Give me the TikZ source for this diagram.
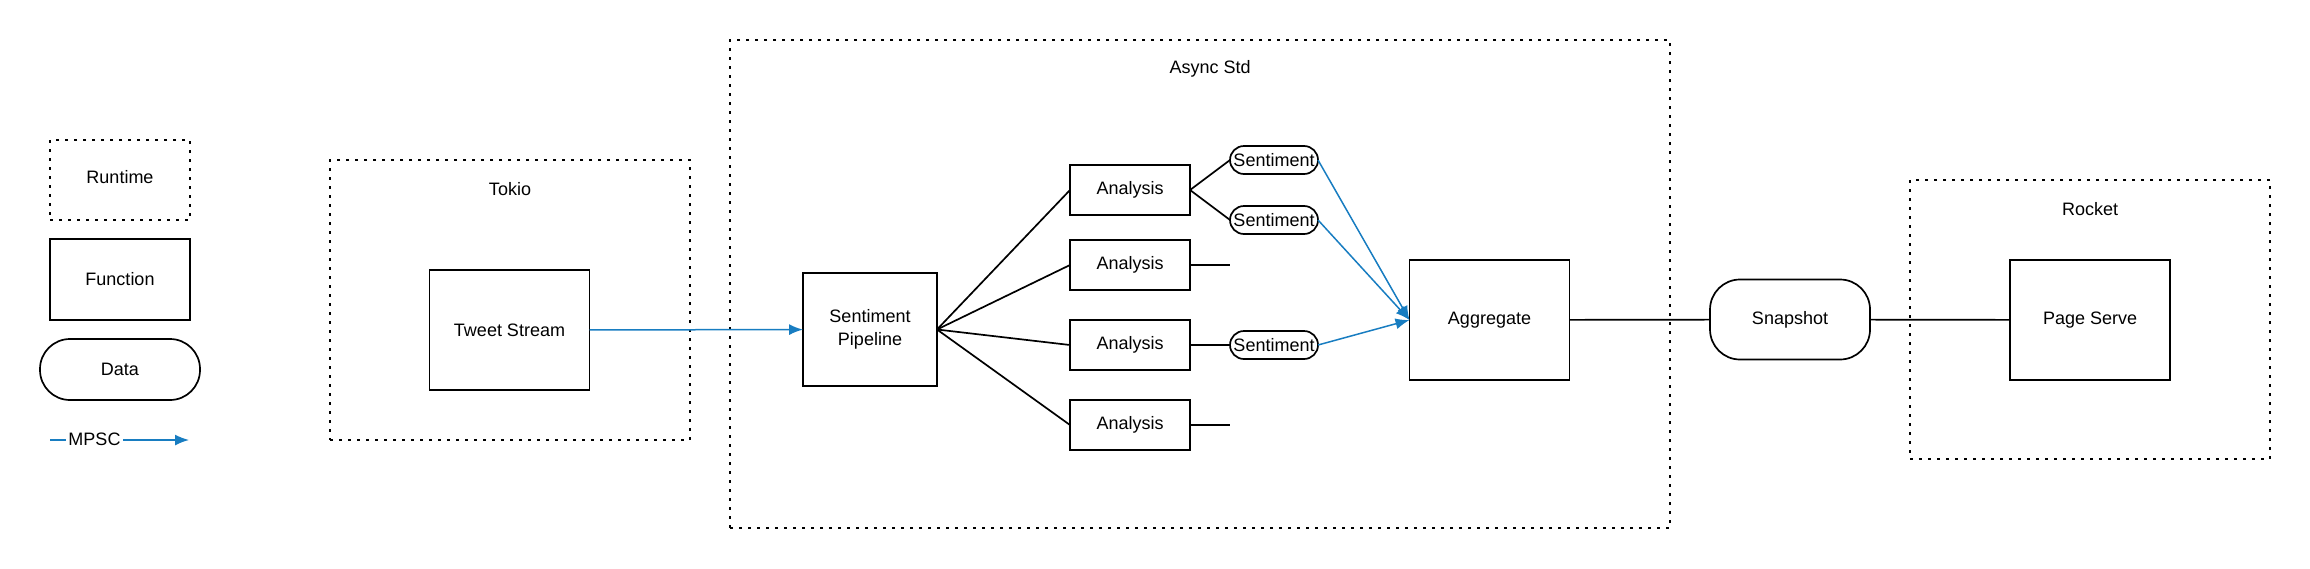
\documentclass[tikz,border=0pt]{standalone}
\usepackage{fontspec}
\setmainfont{Liberation Sans}
\usetikzlibrary{arrows.meta,positioning}
\definecolor{chanblue}{RGB}{24,125,193}
\tikzset{inner sep=0pt, outer sep=0pt}

\begin{document}
\begin{tikzpicture}[x=0.5pt,y=-0.5pt,font=\fontsize{9}{10.8}\selectfont,
        runtime/.style={draw,line width=0.85pt,dash pattern=on 1.5pt off 3pt,rectangle},
        func/.style={draw,line width=0.85pt,rectangle,minimum width=80pt,minimum height=60pt},
        data/.style={draw,line width=0.85pt,rectangle,rounded corners=15pt,minimum width=80pt,minimum height=40pt},
        pill/.style={draw,line width=0.85pt,rectangle,rounded corners=7pt,minimum width=44pt,minimum height=14pt},
        analysis/.style={func,minimum width=60pt,minimum height=25pt},
        link/.style={line width=0.85pt},
        mpsc/.style={draw=chanblue,line width=0.75pt,-{Latex[length=7pt,width=5.5pt]}}]
        \useasboundingbox (0,0) rectangle (2310,568);
        \node[runtime,minimum width=70pt,minimum height=40pt] (legrun) at (120,180) {};
        \node (legrunlbl) at (120,177) {Runtime};
        \node[func,minimum width=70pt,minimum height=40.5pt] (legfunc) at (120,279.5) {Function};
        \node[data,minimum height=30.5pt] (legdata) at (120,369.5) {Data};
        \coordinate (legfrom) at (50,440);
        \coordinate (legto) at (189,440);
        \draw[mpsc] (legfrom) -- (legto);
        \node[fill=white,inner xsep=1pt,inner ysep=1pt] (legmpsc) at (94.5,439) {MPSC};

        \node[runtime,minimum width=180pt,minimum height=140pt] (tokio) at (510,300) {};
        \node (tokiolbl) at (510,189) {Tokio};
        \node[func] (tweet) at (509.5,330) {Tweet Stream};

        \node[runtime,minimum width=470pt,minimum height=244pt] (async) at (1200,284) {};
        \node (asynclbl) at (1210,69) {Async Std};
        \node[func,minimum width=67pt,minimum height=56.5pt,align=center] (pipe) at (870,329.5) {Sentiment\\[1pt]Pipeline};
        \node[analysis] (an1) at (1130,190) {Analysis};
        \node[analysis] (an2) at (1130,265) {Analysis};
        \node[analysis] (an3) at (1130,345) {Analysis};
        \node[analysis] (an4) at (1130,425) {Analysis};
        \node[pill] (sent1) at (1274,160) {Sentiment};
        \node[pill] (sent2) at (1274,220) {Sentiment};
        \node[pill] (sent3) at (1274,345) {Sentiment};
        \coordinate (stub2) at (1230,265);
        \coordinate (stub4) at (1230,425);
        \node[func] (agg) at (1489.5,320) {Aggregate};

        \node[data] (snap) at (1790,319.5) {Snapshot};
        \node[runtime,minimum width=180pt,minimum height=139.5pt] (rocket) at (2090,319.5) {};
        \node (rocketlbl) at (2090,209) {Rocket};
        \node[func] (page) at (2090,320) {Page Serve};

        \draw[mpsc] (tweet) -- (pipe);
        \foreach \a in {an1,an2,an3,an4}
            \draw[link] (pipe.east) -- (\a.west);
        \draw[link] (an1.east) -- (sent1.west);
        \draw[link] (an1.east) -- (sent2.west);
        \draw[link] (an3) -- (sent3);
        \draw[link] (an2) -- (stub2);
        \draw[link] (an4) -- (stub4);
        \foreach \s in {sent1,sent2,sent3}
            \draw[mpsc] (\s.east) -- (agg.west);
        \draw[link] (agg) -- (snap);
        \draw[link] (snap) -- (page);
    \end{tikzpicture}
\end{document}
